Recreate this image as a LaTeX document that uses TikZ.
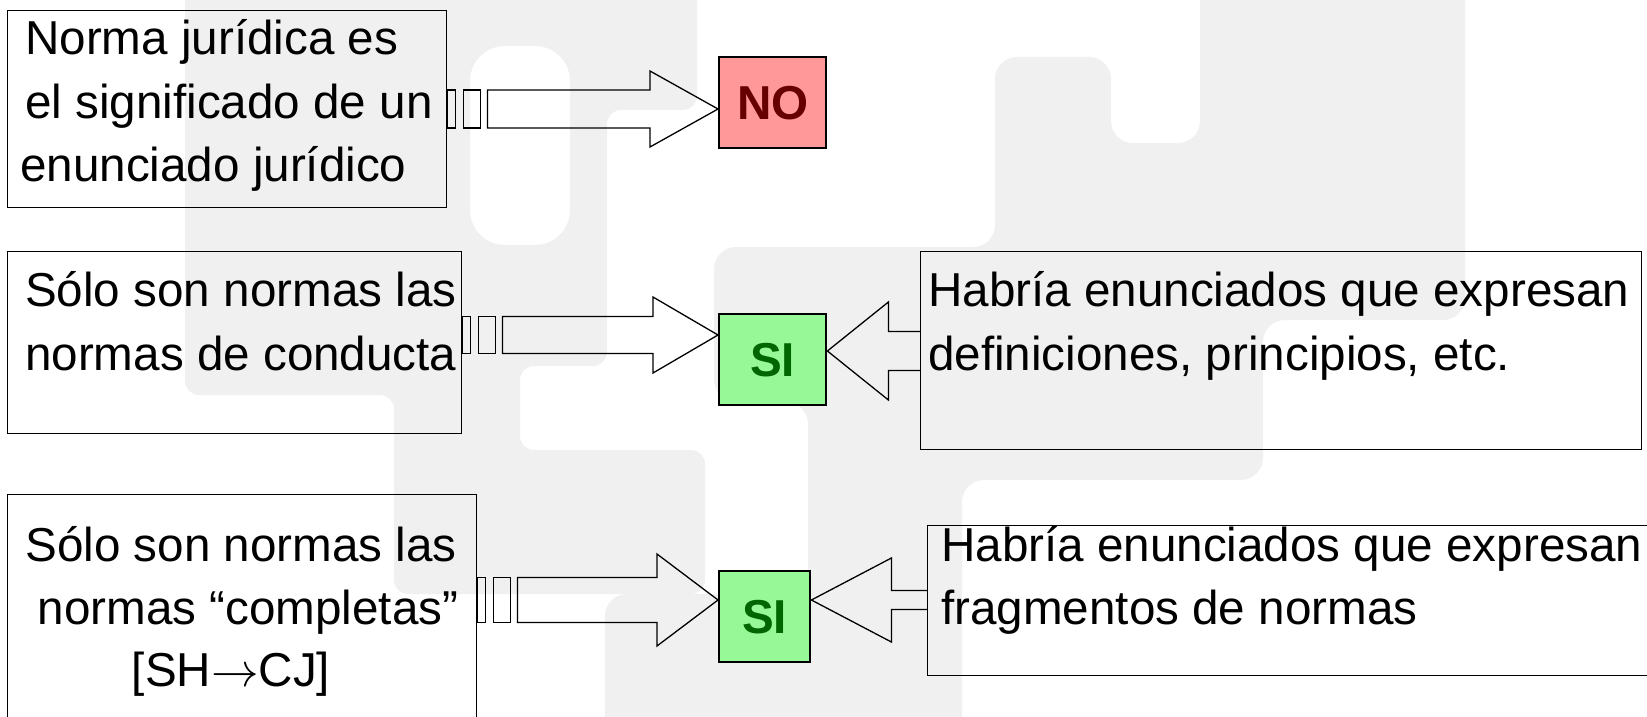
\RequirePackage{fix-cm}
\documentclass[tikz,border=0pt]{standalone}
\usepackage{fontspec}
\setmainfont{Liberation Sans}
\usetikzlibrary{calc}
\definecolor{wm}{RGB}{240,240,240}
\definecolor{nofill}{RGB}{255,153,153}
\definecolor{notext}{RGB}{102,0,0}
\definecolor{sifill}{RGB}{150,248,150}
\definecolor{sitext}{RGB}{0,102,0}
\newcommand\bigfont{\fontsize{47.6}{63}\selectfont}
% striped block arrow: #1 source node, #2 target node, #3 y, #4 shaft half height, #5 head half height, #6 head length
\newcommand\stripedarrow[6]{%
  \coordinate (sA) at (#1.east |- 0,#3);
  \coordinate (sB) at (#2.west |- 0,#3);
  \draw[arrline] ($(sA)+(0,-#4)$) rectangle ($(sA)+(8,#4)$);
  \draw[arrline] ($(sA)+(16,-#4)$) rectangle ($(sA)+(33,#4)$);
  \draw[arrline] ($(sA)+(40,-#4)$) -- ($(sB)+(-#6,-#4)$) -- ($(sB)+(-#6,-#5)$) -- (sB)
     -- ($(sB)+(-#6,#5)$) -- ($(sB)+(-#6,#4)$) -- ($(sA)+(40,#4)$) -- cycle;
}
% plain block arrow pointing left: #1 source node (right), #2 target node (left)
\newcommand\leftblockarrow[6]{%
  \coordinate (sA) at (#1.west |- 0,#3);
  \coordinate (sB) at (#2.east |- 0,#3);
  \draw[arrline] ($(sA)+(0,-#4)$) -- ($(sB)+(#6,-#4)$) -- ($(sB)+(#6,-#5)$) -- (sB)
     -- ($(sB)+(#6,#5)$) -- ($(sB)+(#6,#4)$) -- ($(sA)+(0,#4)$);
}
\begin{document}
\begin{tikzpicture}[x=1pt,y=-1pt,
  tbox/.style={draw=black,line width=1.4pt,inner sep=0pt,anchor=north west},
  nobox/.style={draw=black,line width=2.4pt,fill=nofill,inner sep=0pt,anchor=north west,
     font=\bigfont\bfseries,text=notext},
  sibox/.style={draw=black,line width=2.4pt,fill=sifill,inner sep=0pt,anchor=north west,
     font=\bigfont\bfseries,text=sitext},
  txt/.style={font=\bigfont,inner sep=0pt,anchor=base west},
  ctxt/.style={font=\bigfont,inner sep=0pt,anchor=base},
  arrline/.style={draw=black,line width=1.3pt,line join=miter}]
\useasboundingbox (0,0) rectangle (1647,717);
\clip (0,0) rectangle (1647,717);
% watermark
\fill[wm,even odd rule,rounded corners=14pt] (185,-40) -- (697,-40) -- (697,110) -- (607,110) -- (607,366)
   -- (520,366) -- (520,450) -- (705,450) -- (705,594) -- (394,594) -- (394,395) -- (185,395) -- cycle
   [rounded corners=35pt] (470,46) rectangle (570,245);
\fill[wm,rounded corners=22pt] (714,247) -- (995,247) -- (995,57) -- (1111,57) -- (1111,143) -- (1200,143)
   -- (1200,-40) -- (1465,-40) -- (1465,320) -- (1263,320) -- (1263,480) -- (962,480) -- (962,760)
   -- (605,760) -- (605,594) -- (808,594) -- (808,402) -- (714,402) -- cycle;
% boxes
\node[tbox,minimum width=439pt,minimum height=197pt] (b1) at (7,10) {};
\node[tbox,minimum width=454pt,minimum height=182pt] (b2) at (7,251) {};
\node[tbox,minimum width=469pt,minimum height=260pt] (b3) at (7,494) {};
\node[tbox,minimum width=721pt,minimum height=198pt] (b4) at (920,251) {};
\node[tbox,minimum width=780pt,minimum height=150pt] (b5) at (927,525) {};
\node[nobox,minimum width=107pt,minimum height=91pt] (no) at (718,56) {NO};
\node[sibox,minimum width=107pt,minimum height=91pt] (si1) at (718,313) {SI};
\node[sibox,minimum width=91pt,minimum height=91pt] (si2) at (718,570) {SI};
% texts
\node[txt] (t1a) at (25,55) {Norma jurídica es};
\node[txt] (t1b) at (25,118) {el significado de un};
\node[txt] (t1c) at (20,181) {enunciado jurídico};
\node[txt] (t2a) at (25,306) {Sólo son normas las};
\node[txt] (t2b) at (25,370) {normas de conducta};
\node[ctxt] (t3a) at (241,561) {Sólo son normas las};
\node[ctxt] (t3b) at (248,624) {normas “completas”};
\node[ctxt] (t3c) at (231,686) {[SH$\rightarrow$CJ]};
\node[txt] (t4a) at (928,306) {Habría enunciados que expresan};
\node[txt] (t4b) at (928,370) {definiciones, principios, etc.};
\node[txt] (t5a) at (941,561) {Habría enunciados que expresan};
\node[txt] (t5b) at (941,624) {fragmentos de normas};
% arrows
\stripedarrow{b1}{no}{109}{19}{38}{68}
\stripedarrow{b2}{si1}{335}{18.5}{38}{65}
\stripedarrow{b3}{si2}{600}{22.5}{46}{61}
\leftblockarrow{b4}{si1}{351}{19.5}{49}{61}
\leftblockarrow{b5}{si2}{600}{9.5}{42}{80}
\end{tikzpicture}
\end{document}
